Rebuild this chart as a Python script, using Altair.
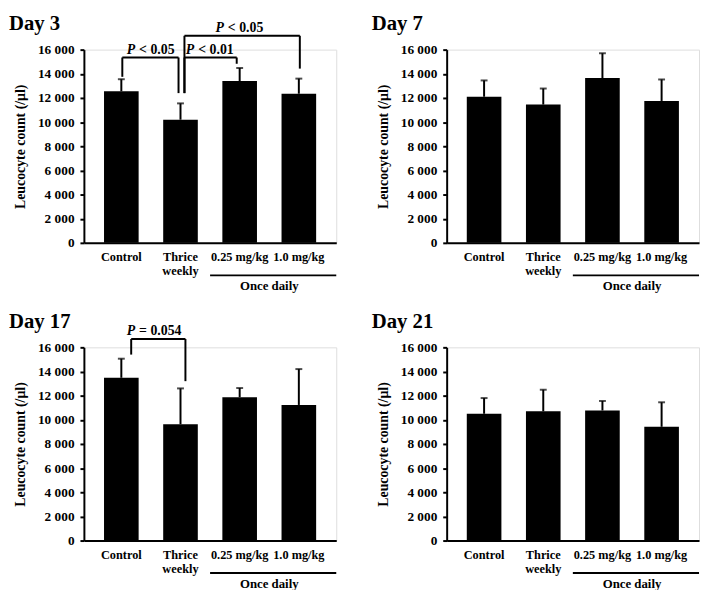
import altair as alt
import pandas as pd

categories = ["Control", "Thrice weekly", "0.25 mg/kg", "1.0 mg/kg"]

mean_day3 = [12550, 10200, 13400, 12350]
sd_day3 = [1000, 1350, 1080, 1250]
mean_day7 = [12100, 11450, 13650, 11750]
sd_day7 = [1350, 1330, 2050, 1780]
mean_day17 = [13480, 9630, 11870, 11230]
sd_day17 = [1580, 2970, 760, 2970]
mean_day21 = [10500, 10700, 10770, 9420]
sd_day21 = [1300, 1790, 790, 2030]

y_ticks = [0, 2000, 4000, 6000, 8000, 10000, 12000, 14000, 16000]

# significance brackets: left group, right group, bracket top, left foot, right foot, label
brackets_day3 = [
    dict(left="Control", right="Thrice weekly", top=15350, lb=13750, rb=12400, label="< 0.05", ldx=1, rdx=-2),
    dict(left="Thrice weekly", right="0.25 mg/kg", top=15350, lb=12400, rb=14830, label="< 0.01", ldx=4, rdx=-3),
    dict(left="Thrice weekly", right="1.0 mg/kg", top=17150, lb=12400, rb=14430, label="< 0.05", ldx=4, rdx=1),
]
brackets_day17 = [
    dict(left="Control", right="Thrice weekly", top=16690, lb=15400, rb=13200, label="= 0.054", ldx=10, rdx=5),
]

FONT = "Liberation Serif"
W = 256
H = 196
P_IN = 0.415
P_OUT = 0.34
STEP = W / (len(categories) - P_IN + 2 * P_OUT)

xscale = alt.Scale(domain=categories, paddingInner=P_IN, paddingOuter=P_OUT)
yscale = alt.Scale(domain=[0, 16000], nice=False, zero=True)

x_axis = alt.Axis(
    labelAngle=0, ticks=False, domainWidth=2, domainColor="black",
    labelFont=FONT, labelFontWeight="bold", labelFontSize=12.5,
    labelColor="black", labelBaseline="middle", labelPadding=14,
    labelLineHeight=14, labelOverlap=False, labelLimit=200,
    labelExpr="datum.label == 'Thrice weekly' ? ['Thrice', 'weekly'] : datum.label",
)
y_axis = alt.Axis(
    values=y_ticks, grid=False, domainWidth=2, domainColor="black",
    tickColor="black", tickWidth=2, tickSize=4, labelPadding=6,
    labelFont=FONT, labelFontWeight="bold", labelFontSize=13.5, labelColor="black",
    labelExpr="replace(format(datum.value, ','), ',', ' ')",
    titleFont=FONT, titleFontWeight="bold", titleFontSize=14,
    titleColor="black", titlePadding=10,
)


def xenc(field):
    return alt.X(f"{field}:N", scale=xscale, sort=categories, title=None, axis=x_axis)


def yenc(field):
    return alt.Y(f"{field}:Q", scale=yscale, title="Leucocyte count (/µl)", axis=y_axis)


def panel(day, means, sds, brackets):
    df = pd.DataFrame({
        "group": categories,
        "mean": means,
        "top": [m + s for m, s in zip(means, sds)],
    })
    bars = alt.Chart(df).mark_bar(color="black").encode(x=xenc("group"), y=yenc("mean"))
    stems = alt.Chart(df).mark_rule(color="black", strokeWidth=2).encode(
        x=xenc("group"), y=yenc("mean"), y2="top:Q"
    )
    caps = alt.Chart(df).mark_tick(color="black", thickness=2, size=7).encode(
        x=xenc("group"), y=yenc("top")
    )
    layers = [bars, stems, caps]

    for b in brackets:
        bd = pd.DataFrame([b])
        span = categories.index(b["right"]) - categories.index(b["left"])
        mid = span * STEP / 2
        layers.append(alt.Chart(bd).mark_rule(color="black", strokeWidth=2,
                                              xOffset=b["ldx"], x2Offset=b["rdx"]).encode(
            x=xenc("left"), x2="right:N", y=yenc("top")))
        layers.append(alt.Chart(bd).mark_rule(color="black", strokeWidth=2, xOffset=b["ldx"]).encode(
            x=xenc("left"), y=yenc("lb"), y2="top:Q"))
        layers.append(alt.Chart(bd).mark_rule(color="black", strokeWidth=2, xOffset=b["rdx"]).encode(
            x=xenc("right"), y=yenc("rb"), y2="top:Q"))
        layers.append(alt.Chart(bd).mark_text(
            text="P", font=FONT, fontStyle="italic", fontWeight="bold", fontSize=14,
            color="black", align="right", baseline="alphabetic", dx=mid - 16, dy=-4).encode(
            x=xenc("left"), y=yenc("top")))
        layers.append(alt.Chart(bd).mark_text(
            font=FONT, fontWeight="bold", fontSize=14, color="black",
            align="left", baseline="alphabetic", dx=mid - 12, dy=-4).encode(
            x=xenc("left"), y=yenc("top"), text="label:N"))

    grp = pd.DataFrame([{"left": "0.25 mg/kg", "label": "Once daily"}])
    layers.append(alt.Chart(grp).mark_rule(color="black", strokeWidth=2, xOffset=-STEP / 2).encode(
        x=xenc("left"), x2=alt.value(W), y=alt.value(H + 33)))
    layers.append(alt.Chart(grp).mark_text(
        font=FONT, fontWeight="bold", fontSize=13, color="black",
        align="center", baseline="middle", dx=STEP / 2).encode(
        x=xenc("left"), y=alt.value(H + 44), text="label:N"))

    ttl = pd.DataFrame([{"day": day}])
    layers.append(alt.Chart(ttl).mark_text(
        font=FONT, fontWeight="bold", fontSize=21, color="black",
        align="left", baseline="alphabetic").encode(
        x=alt.value(-76), y=alt.value(-20), text="day:N"))

    return alt.layer(*layers).properties(width=W, height=H)


p3 = panel("Day 3", mean_day3, sd_day3, brackets_day3)
p7 = panel("Day 7", mean_day7, sd_day7, [])
p17 = panel("Day 17", mean_day17, sd_day17, brackets_day17)
p21 = panel("Day 21", mean_day21, sd_day21, [])

chart = alt.vconcat(
    alt.hconcat(p3, p7, spacing=33),
    alt.hconcat(p17, p21, spacing=33),
    spacing=16,
).properties(padding=0).configure_view(strokeWidth=0).configure(background="white")

chart.save("out.html", embed_options={"renderer": "svg", "actions": False})
